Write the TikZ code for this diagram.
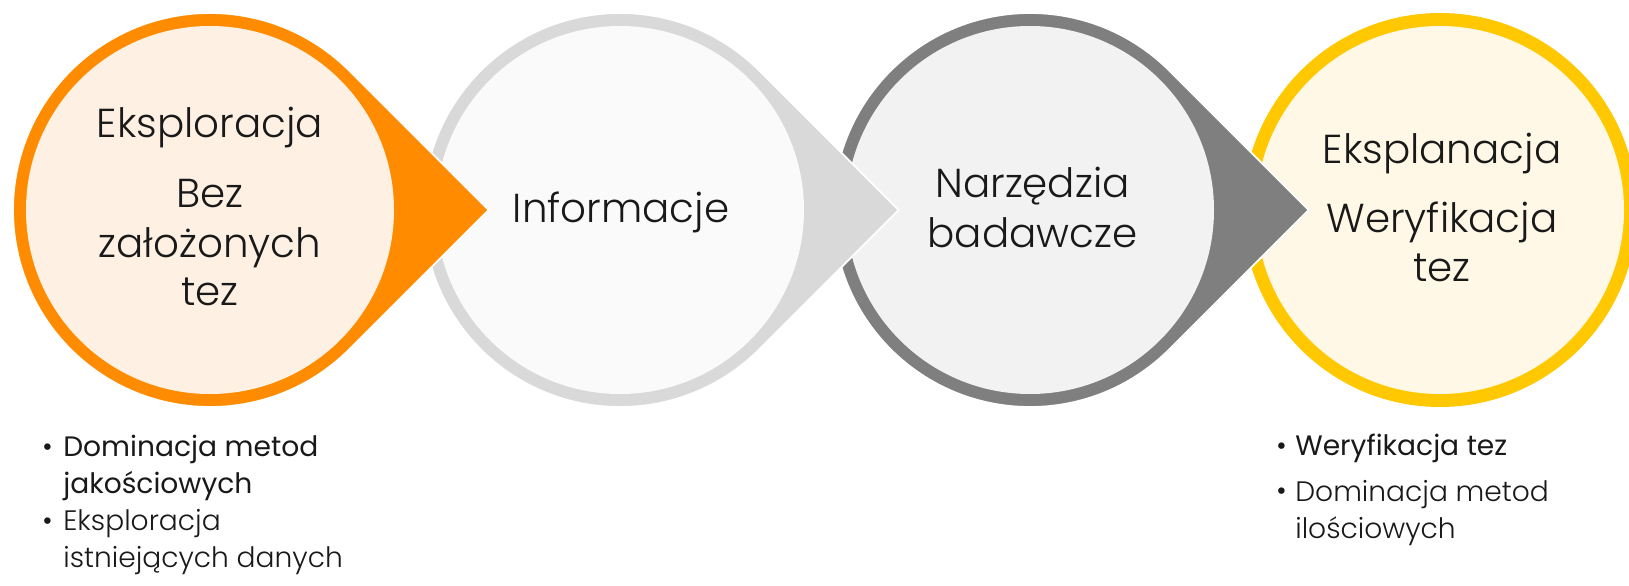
\documentclass[tikz,border=0pt]{standalone}
\usepackage{fontspec}
\setmainfont{Poppins}[UprightFont=* Light, BoldFont=*]
\definecolor{orangering}{HTML}{FF8C00}
\definecolor{orangefill}{HTML}{FEF1E3}
\definecolor{greyring}{HTML}{D9D9D9}
\definecolor{greyfill}{HTML}{FAFAFA}
\definecolor{darkring}{HTML}{7F7F7F}
\definecolor{darkfill}{HTML}{F2F2F2}
\definecolor{goldring}{HTML}{FFC800}
\definecolor{goldfill}{HTML}{FFF8E6}

\begin{document}
\begin{tikzpicture}[drop/.style={draw=white, line width=1pt},
    inner/.style={circle, inner sep=0pt, minimum size=7.36cm},
    t/.style={anchor=base, font=\fontsize{23}{28}\selectfont, text=black!90},
    b/.style={anchor=base west, align=left, inner sep=0pt, font=\fontsize{16}{21}\selectfont, text=black!90},
    bb/.style={b, font=\bfseries\fontsize{16}{21}\selectfont}]
    \clip (0,0) rectangle (32.58,-11.72);

    % last circle has no point, the others point over the next circle
    \node[circle, inner sep=0pt, minimum size=7.88cm, fill=goldring] (r4) at (28.8,-4.2) {};
    \node[inner, fill=goldfill] (c4) at (28.8,-4.2) {};
    \path[drop, fill=darkring] (26.172,-4.2) -- ++(135:3.94) arc[start angle=45, end angle=315, radius=3.94] -- cycle;
    \node[inner, fill=darkfill] (c3) at (20.6,-4.2) {};
    \path[drop, fill=greyring] (17.972,-4.2) -- ++(135:3.94) arc[start angle=45, end angle=315, radius=3.94] -- cycle;
    \node[inner, fill=greyfill] (c2) at (12.4,-4.2) {};
    \path[drop, fill=orangering] (9.772,-4.2) -- ++(135:3.94) arc[start angle=45, end angle=315, radius=3.94] -- cycle;
    \node[inner, fill=orangefill] (c1) at (4.2,-4.2) {};

    \node[t] (eks) at (4.2,-2.74) {Eksploracja};
    \node[t] (bez) at (4.2,-4.14) {Bez};
    \node[t] (zal) at (4.2,-5.14) {założonych};
    \node[t] (tz1) at (4.2,-6.10) {tez};

    \node[t] (inf) at (12.42,-4.44) {Informacje};

    \node[t] (nar) at (20.65,-3.94) {Narzędzia};
    \node[t] (bad) at (20.65,-4.94) {badawcze};

    \node[t] (ekp) at (28.84,-3.26) {Eksplanacja};
    \node[t] (wer) at (28.84,-4.64) {Weryfikacja};
    \node[t] (tz2) at (28.84,-5.62) {tez};

    % bullet lists (two-line nodes sit on their last line)
    \node[b] (d1) at (0.84,-9.12) {•};
    \node[bb] (dom) at (1.26,-9.86) {Dominacja metod\\jakościowych};
    \node[b] (d2) at (0.84,-10.60) {•};
    \node[b] (ist) at (1.26,-11.34) {Eksploracja\\istniejących danych};

    \node[b] (d3) at (25.52,-9.10) {•};
    \node[bb] (wt) at (25.9,-9.10) {Weryfikacja tez};
    \node[b] (d4) at (25.52,-10.0) {•};
    \node[b] (ilo) at (25.9,-10.76) {Dominacja metod\\ilościowych};
\end{tikzpicture}
\end{document}
